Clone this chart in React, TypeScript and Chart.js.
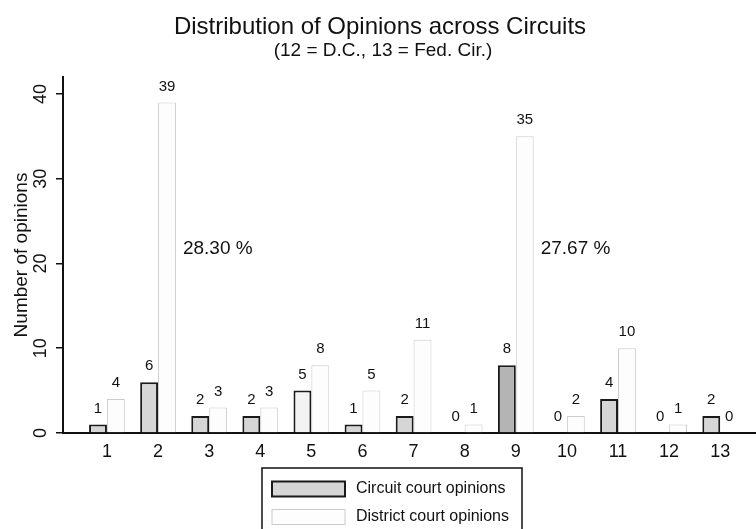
import React, { useEffect, useRef } from 'react';
import { Chart, registerables } from 'chart.js';

Chart.register(...registerables);

const circuits = [1, 2, 3, 4, 5, 6, 7, 8, 9, 10, 11, 12, 13];
const circuitOpinions = [1, 6, 2, 2, 5, 1, 2, 0, 8, 0, 4, 0, 2];
const districtOpinions = [4, 39, 3, 3, 8, 5, 11, 1, 35, 2, 10, 1, 0];
const yTicks = [0, 10, 20, 30, 40];
const seriesLabels = ['Circuit court opinions', 'District court opinions'];
const shareLabels = ['28.30 %', '27.67 %'];
const shareCircuits = [2, 9];
const shareLevel = 22;
const titleText = 'Distribution of Opinions across Circuits';
const subtitleText = '(12 = D.C., 13 = Fed. Cir.)';
const yAxisTitle = 'Number of opinions';

const FONT = '"Liberation Sans", Arial, Helvetica, sans-serif';

const circuitFill = circuits.map((c) => (c === 9 ? '#b4b4b4' : c === 5 ? '#f3f3f3' : '#d6d6d6'));

const decor = {
  id: 'decor',
  afterDatasetsDraw(chart: any) {
    const ctx = chart.ctx;
    ctx.save();
    ctx.fillStyle = '#111';
    ctx.font = `15px ${FONT}`;
    ctx.textAlign = 'center';
    ctx.textBaseline = 'middle';
    chart.data.datasets.forEach((ds: any, di: number) => {
      const meta = chart.getDatasetMeta(di);
      meta.data.forEach((el: any, i: number) => {
        const v = ds.data[i].y;
        ctx.fillText(String(v), el.x, el.y - 16);
      });
    });
    const meta = chart.getDatasetMeta(1);
    const ys = chart.scales.y;
    ctx.font = `19px ${FONT}`;
    ctx.textAlign = 'left';
    shareCircuits.forEach((c, k) => {
      const el: any = meta.data[c - 1];
      ctx.fillText(shareLabels[k], el.x + el.width / 2 + 7, ys.getPixelForValue(shareLevel) + 2);
    });
    ctx.restore();
  },
  afterDraw(chart: any) {
    const ctx = chart.ctx;
    const ys = chart.scales.y;
    const area = chart.chartArea;
    ctx.save();
    ctx.fillStyle = '#111';
    ctx.textAlign = 'center';
    ctx.textBaseline = 'middle';
    ctx.font = `24px ${FONT}`;
    ctx.fillText(titleText, 380, 27);
    ctx.font = `19px ${FONT}`;
    ctx.fillText(subtitleText, 383, 51);

    // y tick labels (rotated)
    ctx.font = `18px ${FONT}`;
    yTicks.forEach((t) => {
      const py = ys.getPixelForValue(t);
      ctx.save();
      ctx.translate(area.left - 22, py);
      ctx.rotate(-Math.PI / 2);
      ctx.fillText(String(t), 0, 0);
      ctx.restore();
    });
    // y axis title
    ctx.save();
    ctx.font = `19px ${FONT}`;
    ctx.translate(22, (area.top + area.bottom) / 2);
    ctx.rotate(-Math.PI / 2);
    ctx.fillText(yAxisTitle, 0, 0);
    ctx.restore();

    // legend
    const lx = 262, ly = 468, lw = 260, lh = 70;
    ctx.strokeStyle = '#111';
    ctx.lineWidth = 1.5;
    ctx.strokeRect(lx, ly, lw, lh);
    const rows = [489, 517];
    chart.data.datasets.forEach((ds: any, di: number) => {
      const cy = rows[di];
      const fill = Array.isArray(ds.backgroundColor) ? ds.backgroundColor[0] : ds.backgroundColor;
      ctx.fillStyle = fill;
      ctx.fillRect(272, cy - 7.5, 73, 15);
      ctx.strokeStyle = ds.borderColor;
      ctx.lineWidth = ds.borderWidth;
      ctx.strokeRect(272, cy - 7.5, 73, 15);
      ctx.fillStyle = '#111';
      ctx.font = `16px ${FONT}`;
      ctx.textAlign = 'left';
      ctx.fillText(ds.label, 356, cy);
    });
    ctx.restore();
  },
};

export default function App() {
  const ref = useRef<HTMLCanvasElement | null>(null);
  useEffect(() => {
    document.body.style.margin = '0';
    const canvas = ref.current!;
    const chart = new Chart(canvas, {
      type: 'bar',
      data: {
        datasets: [
          {
            label: seriesLabels[0],
            data: circuits.map((c, i) => ({ x: c, y: circuitOpinions[i] })),
            backgroundColor: circuitFill,
            borderColor: '#1a1a1a',
            borderWidth: 2,
            categoryPercentage: 0.7,
            barPercentage: 1,
          },
          {
            label: seriesLabels[1],
            data: circuits.map((c, i) => ({ x: c, y: districtOpinions[i] })),
            backgroundColor: '#fdfdfd',
            borderColor: '#cccccc',
            borderWidth: 1,
            categoryPercentage: 0.7,
            barPercentage: 1,
          },
        ] as any,
      },
      options: {
        animation: false,
        responsive: false,
        maintainAspectRatio: false,
        layout: { padding: { top: 77, right: 0, bottom: 56, left: 0 } },
        plugins: { legend: { display: false }, title: { display: false }, tooltip: { enabled: false } },
        scales: {
          x: {
            type: 'linear',
            min: 0.14,
            max: 13.7,
            offset: false,
            afterFit: (s: any) => { s.height = 40; },
            grid: { display: true, drawOnChartArea: false, drawTicks: false },
            border: { display: true, color: '#111', width: 2 },
            ticks: {
              stepSize: 1,
              includeBounds: false,
              autoSkip: false,
              maxRotation: 0,
              padding: 8,
              color: '#111',
              font: { family: FONT, size: 18 },
              callback: (v: any) => (Number.isInteger(v) && v >= 1 && v <= 13 ? String(v) : ''),
            },
          },
          y: {
            type: 'linear',
            min: 0,
            max: 42,
            afterFit: (s: any) => { s.width = 63; },
            grid: { display: true, drawOnChartArea: false, drawTicks: true, tickLength: 7, color: '#111', lineWidth: 1.5 },
            border: { display: true, color: '#111', width: 2 },
            ticks: { display: false, stepSize: 10, includeBounds: false },
          },
        },
      },
      plugins: [decor],
    });
    return () => chart.destroy();
  }, []);
  return <canvas ref={ref} width={756} height={529} style={{ display: 'block' }} />;
}
